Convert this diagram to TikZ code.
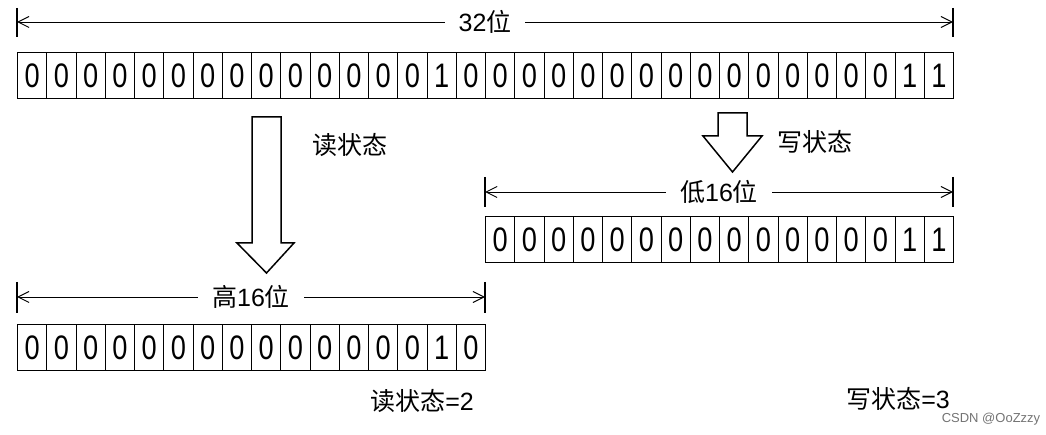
\documentclass[tikz,border=0pt]{standalone}
\usepackage{fontspec}
\setmainfont{Liberation Sans}
\newfontfamily\cjk{Noto Sans CJK SC}
\newfontfamily\bitfont[FakeStretch=0.8]{Liberation Sans}
\usetikzlibrary{arrows.meta}

\tikzset{
  bit/.style={draw, line width=1.2pt, minimum width=29.25pt, minimum height=46pt,
    inner sep=0pt, anchor=north west, font=\bitfont\fontsize{34}{34}\selectfont},
  dim/.style={line width=0.9pt, {Straight Barb[length=11pt,width=11pt,line width=1pt]}-{Straight Barb[length=11pt,width=11pt,line width=1pt]}},
  tick/.style={line width=1.5pt},
  gaplbl/.style={fill=white, inner xsep=14pt, inner ysep=2pt, font=\fontsize{25}{25}\selectfont},
  lbl/.style={font=\fontsize{25}{25}\selectfont},
  hollow/.style={line width=1.5pt, line join=miter, fill=white},
  wm/.style={text=black!55, font=\fontsize{13}{13}\selectfont}
}

\begin{document}
\begin{tikzpicture}[x=1pt, y=-1pt]
    \useasboundingbox (0,0) rectangle (1046,435);

    % 32 bit word
    \coordinate (allL) at (17,22);
    \coordinate (allR) at (953,22);
    \draw[tick] (17,8) -- (17,37);
    \draw[tick] (953,8) -- (953,37);
    \draw[dim] (allL) -- node[gaplbl] (alllbl) {32{\cjk 位}} (allR);
    \foreach \b [count=\i] in {0,0,0,0,0,0,0,0,0,0,0,0,0,0,1,0,0,0,0,0,0,0,0,0,0,0,0,0,0,0,1,1}
        \node[bit] (all\i) at ({17+(\i-1)*29.25},52) {\b};

    % read state: high 16 bits
    \draw[hollow] (252,117) -- (281,117) -- (281,243) -- (294,243) -- (266.5,273) -- (237,243) -- (252,243) -- cycle;
    \node[lbl] (readlbl) at (350,145) {\cjk 读状态};

    \coordinate (highL) at (17,297);
    \coordinate (highR) at (485,297);
    \draw[tick] (17,282) -- (17,313);
    \draw[tick] (485,282) -- (485,313);
    \draw[dim] (highL) -- node[gaplbl] (highlbl) {{\cjk 高}16{\cjk 位}} (highR);
    \foreach \b [count=\i] in {0,0,0,0,0,0,0,0,0,0,0,0,0,0,1,0}
        \node[bit] (high\i) at ({17+(\i-1)*29.25},324) {\b};
    \node[lbl] (readval) at (422,401) {{\cjk 读状态}=2};

    % write state: low 16 bits
    \draw[hollow] (718,113) -- (747,113) -- (747,136) -- (762,136) -- (732.5,172) -- (703,136) -- (718,136) -- cycle;
    \node[lbl] (writelbl) at (815,142) {\cjk 写状态};

    \coordinate (lowL) at (485,192);
    \coordinate (lowR) at (953,192);
    \draw[tick] (485,177) -- (485,207);
    \draw[tick] (953,177) -- (953,207);
    \draw[dim] (lowL) -- node[gaplbl] (lowlbl) {{\cjk 低}16{\cjk 位}} (lowR);
    \foreach \b [count=\i] in {0,0,0,0,0,0,0,0,0,0,0,0,0,0,1,1}
        \node[bit] (low\i) at ({485+(\i-1)*29.25},216) {\b};
    \node[lbl] (writeval) at (898,399) {{\cjk 写状态}=3};

    \node[wm] (mark) at (991,419) {CSDN @OoZzzy};
\end{tikzpicture}
\end{document}
